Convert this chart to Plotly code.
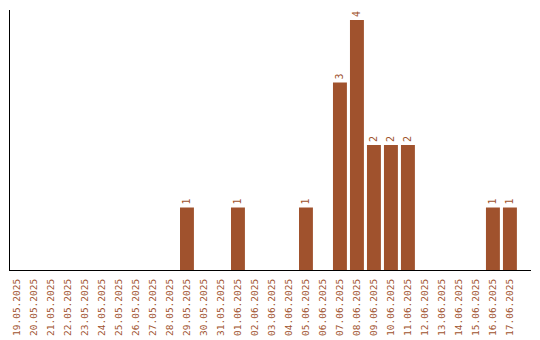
import plotly.graph_objects as go

dates = ["19.05.2025","20.05.2025","21.05.2025","22.05.2025","23.05.2025","24.05.2025",
         "25.05.2025","26.05.2025","27.05.2025","28.05.2025","29.05.2025","30.05.2025",
         "31.05.2025","01.06.2025","02.06.2025","03.06.2025","04.06.2025","05.06.2025",
         "06.06.2025","07.06.2025","08.06.2025","09.06.2025","10.06.2025","11.06.2025",
         "12.06.2025","13.06.2025","14.06.2025","15.06.2025","16.06.2025","17.06.2025"]
counts = [0,0,0,0,0,0,0,0,0,0,1,0,0,1,0,0,0,1,0,3,4,2,2,2,0,0,0,0,1,1]

color = "#A0522D"
texts = [str(v) if v > 0 else "" for v in counts]

fig = go.Figure(go.Bar(
    x=dates, y=counts, marker_color=color, marker_line_width=0,
    text=texts, textposition="outside", textangle=-90,
    textfont=dict(family="DejaVu Sans Mono", size=10, color=color),
    cliponaxis=False,
))
fig.update_layout(
    width=540, height=340,
    margin=dict(l=10, r=9, t=10, b=70, autoexpand=False),
    paper_bgcolor="white", plot_bgcolor="white",
    bargap=0.18, showlegend=False,
    xaxis=dict(type="category", range=[-0.41, 30.24], showgrid=False, zeroline=False,
               showline=True, linecolor="black", linewidth=1, ticks="", automargin=False,
               tickangle=-90, tickfont=dict(family="DejaVu Sans Mono", size=9.5, color=color),
               ticklabelstandoff=4),
    yaxis=dict(range=[0, 4.16], showgrid=False, zeroline=False, showline=True, automargin=False,
               linecolor="black", linewidth=1, showticklabels=False, ticks=""),
    uniformtext=dict(minsize=9, mode="show"),
)
fig.write_html("out.html")
